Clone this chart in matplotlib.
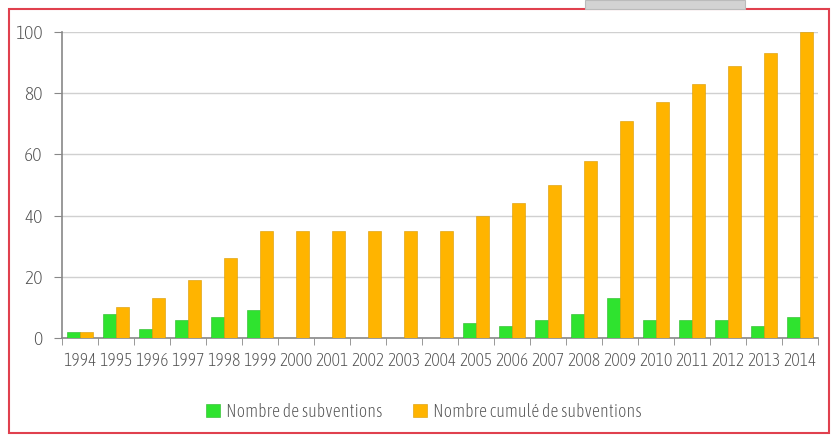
import numpy as np
import matplotlib.pyplot as plt
from matplotlib.patches import Rectangle

# annual and cumulative number of grants
years = [str(y) for y in range(1994, 2015)]
nb_subventions = [2, 8, 3, 6, 7, 9, 0, 0, 0, 0, 0, 5, 4, 6, 8, 13, 6, 6, 6, 4, 7]
nb_cumule = [2, 10, 13, 19, 26, 35, 35, 35, 35, 35, 35, 40, 44, 50, 58, 71, 77, 83, 89, 93, 100]

green = "#2FE32F"
orange = "#FFB400"
txt = "#505050"
plt.rcParams['font.family'] = ['Asap Condensed', 'Liberation Sans', 'DejaVu Sans']

fig = plt.figure(figsize=(8.32, 4.38), dpi=100)
ax = fig.add_axes([62/832, 1 - 338/438, (818-62)/832, (338-32)/438])

x = np.arange(len(years))
w = 0.36
ax.bar(x - w/2, nb_subventions, w, color=green, edgecolor="#28B828", linewidth=0.4,
       label="Nombre de subventions", zorder=3)
ax.bar(x + w/2, nb_cumule, w, color=orange, edgecolor="#D89A00", linewidth=0.4,
       label="Nombre cumulé de subventions", zorder=3)

ax.set_xlim(-0.5, len(years) - 0.5)
ax.set_ylim(0, 100)
ax.set_yticks([0, 20, 40, 60, 80, 100])
ax.set_xticks(x)
ax.set_xticklabels(years)
ax.set_xticks(np.arange(-0.5, len(years)), minor=True)
ax.tick_params(axis='x', which='major', length=0, pad=10, labelsize=12.8, labelcolor=txt)
ax.tick_params(axis='x', which='minor', length=5, color="#888888", direction='out')
ax.tick_params(axis='y', length=6, color="#888888", labelsize=14, labelcolor=txt, pad=8)
for lab in ax.get_xticklabels() + ax.get_yticklabels():
    lab.set_fontweight('light')
ax.grid(axis='y', color="#D0D0D0", linewidth=1, zorder=0)
for s in ['top', 'right']:
    ax.spines[s].set_visible(False)
for s in ['left', 'bottom']:
    ax.spines[s].set_color("#888888")
    ax.spines[s].set_linewidth(1.2)

leg = fig.legend(loc='center', bbox_to_anchor=(424/832, 1 - 412/438), ncol=2, frameon=False,
                 fontsize=13, handlelength=0.75, handleheight=0.75, handletextpad=0.35,
                 columnspacing=1.7, labelcolor=txt)
for t in leg.get_texts():
    t.set_fontweight('light')

# red frame and the grey tab above it
fig.patches.append(Rectangle((9/832, 1 - 433/438), 820/832, 424/438, transform=fig.transFigure,
                             fill=False, edgecolor="#E0404E", linewidth=1.5))
fig.patches.append(Rectangle((585/832, 1 - 9/438), 160/832, 9/438, transform=fig.transFigure,
                             facecolor="#D3D3D3", edgecolor="#BBBBBB", linewidth=0.8))

fig.savefig("out.png", dpi=100)
